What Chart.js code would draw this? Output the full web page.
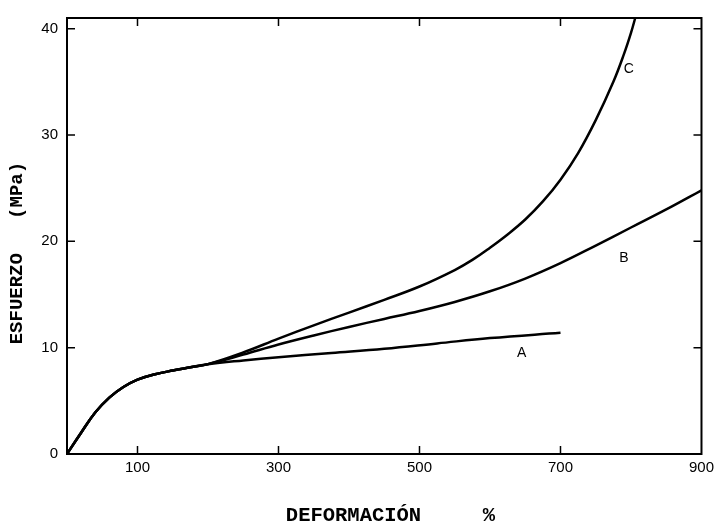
<!DOCTYPE html>
<html>
<head>
<meta charset="utf-8">
<script src="https://cdn.jsdelivr.net/npm/chart.js@4"></script>
<style>
  body { margin: 0; background: #fff; }
</style>
</head>
<body>
<canvas id="chart" width="719" height="526"></canvas>
<script>
// shared start of the three curves (deformation %, stress MPa)
const baseX = [0, 20, 40, 60, 80, 100, 125, 150, 175, 200];
const baseY = [0, 2.0, 3.9, 5.3, 6.3, 7.0, 7.5, 7.85, 8.15, 8.45];

const aX = [250, 300, 375, 450, 525, 600, 700];
const aY = [8.8, 9.1, 9.5, 9.9, 10.4, 10.9, 11.4];

const bX = [250, 300, 350, 400, 450, 500, 550, 600, 650, 700, 750, 800, 850, 900];
const bY = [9.35, 10.3, 11.15, 11.95, 12.7, 13.45, 14.3, 15.3, 16.5, 17.95, 19.6, 21.3, 23.0, 24.8];

const cX = [250, 300, 350, 400, 450, 500, 550, 575, 600, 625, 650, 675, 700, 725, 750, 775, 790, 800, 806, 810];
const cY = [9.55, 10.85, 12.1, 13.3, 14.5, 15.75, 17.3, 18.25, 19.4, 20.65, 22.05, 23.75, 25.8, 28.3, 31.4, 35.0, 37.6, 39.6, 41.0, 42.0];

const xTicks = [100, 300, 500, 700, 900];
const yTicks = [0, 10, 20, 30, 40];

const curveNames = ['A', 'B', 'C'];

function toPoints(xs, ys) {
  const pts = [];
  for (let i = 0; i < xs.length; i++) pts.push({x: xs[i], y: ys[i]});
  return pts;
}

function curve(label, xs, ys) {
  return {
    label: label,
    data: toPoints(baseX.concat(xs), baseY.concat(ys)),
    showLine: true,
    borderColor: '#000',
    borderWidth: 2.5,
    pointRadius: 0,
    tension: 0.4,
    fill: false
  };
}

// box around the plot, inward tick marks, and the A/B/C curve labels
const frame = {
  id: 'frame',
  afterDraw(chart) {
    const ctx = chart.ctx;
    const a = chart.chartArea;
    const xs = chart.scales.x;
    const ys = chart.scales.y;
    ctx.save();
    ctx.strokeStyle = '#000';
    ctx.lineWidth = 2;
    ctx.strokeRect(a.left, a.top, a.right - a.left, a.bottom - a.top);

    ctx.lineWidth = 1.5;
    ctx.beginPath();
    xTicks.forEach(v => {
      if (v <= xs.min || v >= xs.max) return;
      const px = xs.getPixelForValue(v);
      ctx.moveTo(px, a.bottom); ctx.lineTo(px, a.bottom - 8);
      ctx.moveTo(px, a.top); ctx.lineTo(px, a.top + 8);
    });
    yTicks.forEach(v => {
      if (v <= ys.min || v >= ys.max) return;
      const py = ys.getPixelForValue(v);
      ctx.moveTo(a.left, py); ctx.lineTo(a.left + 8, py);
      ctx.moveTo(a.right, py); ctx.lineTo(a.right - 8, py);
    });
    ctx.stroke();

    ctx.fillStyle = '#000';
    ctx.font = '14px "Liberation Sans", Arial, sans-serif';
    ctx.textAlign = 'center';
    ctx.textBaseline = 'middle';
    const spots = [[645, 9.5], [790, 18.4], [797, 36.2]];
    curveNames.forEach((n, i) => {
      ctx.fillText(n, xs.getPixelForValue(spots[i][0]), ys.getPixelForValue(spots[i][1]));
    });
    ctx.restore();
  }
};

const titleFont = {family: '"Liberation Mono", "Courier New", monospace', weight: 'bold', lineHeight: 1};
const tickFont = {family: '"Liberation Sans", Arial, sans-serif', size: 15};

new Chart(document.getElementById('chart'), {
  type: 'scatter',
  data: {
    datasets: [curve('A', aX, aY), curve('B', bX, bY), curve('C', cX, cY)]
  },
  options: {
    responsive: false,
    devicePixelRatio: 1,
    animation: false,
    layout: {padding: {top: 18, right: 13, left: 0, bottom: 0}},
    plugins: {
      legend: {display: false},
      tooltip: {enabled: false}
    },
    scales: {
      x: {
        type: 'linear',
        min: 0,
        max: 900,
        afterBuildTicks: s => { s.ticks = xTicks.map(v => ({value: v})); },
        afterFit: s => { s.height = 72; },
        grid: {display: false, drawTicks: false},
        border: {display: false},
        ticks: {color: '#000', font: tickFont, padding: 5, maxRotation: 0},
        title: {
          display: true,
          text: ' DEFORMACIÓN     %',
          color: '#000',
          font: Object.assign({size: 20.5}, titleFont),
          padding: {top: 0, bottom: 0}
        }
      },
      y: {
        min: 0,
        max: 41,
        afterBuildTicks: s => { s.ticks = yTicks.map(v => ({value: v})); },
        afterFit: s => { s.width = 67; },
        grid: {display: false, drawTicks: false},
        border: {display: false},
        ticks: {color: '#000', font: tickFont, padding: 9},
        title: {
          display: true,
          text: 'ESFUERZO   (MPa)   ',
          color: '#000',
          font: Object.assign({size: 19}, titleFont),
          padding: {top: 8, bottom: 0}
        }
      }
    }
  },
  plugins: [frame]
});
</script>
</body>
</html>
